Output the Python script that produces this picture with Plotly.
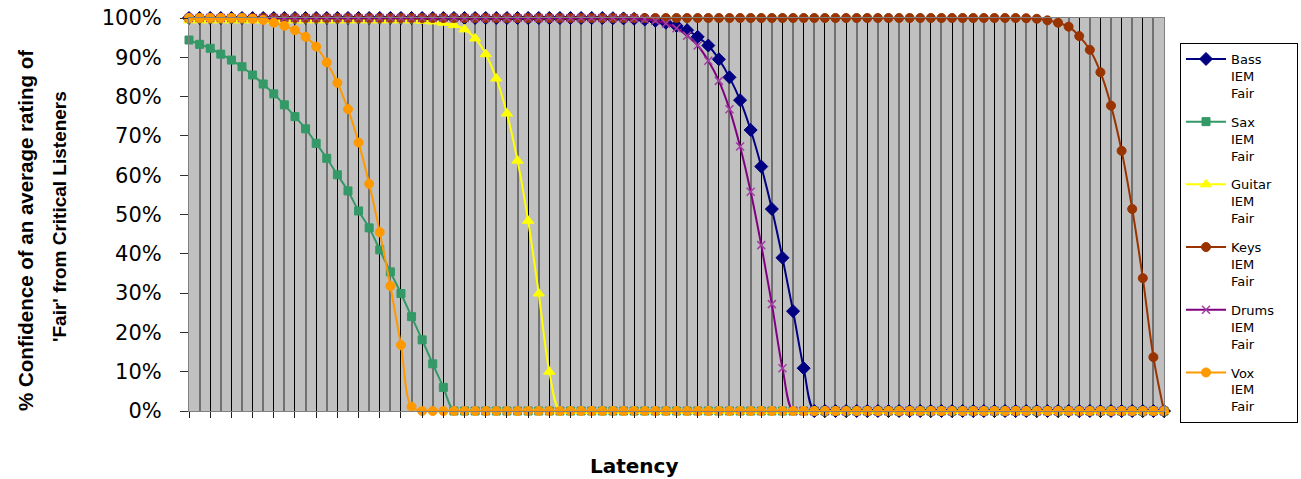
import plotly.graph_objects as go

# Category positions (latency steps, unlabeled in the original)
latency = list(range(93))

# Series values in percent
bass = [100] * 40 + [99.95, 99.9, 99.8, 99.6, 99.3, 98.8, 98.0, 96.9, 95.2, 93.0, 89.5,
                     84.9, 79.1, 71.5, 62.2, 51.4, 39.0, 25.4, 10.9] + [0] * 34
sax = [94.4, 93.3, 92.3, 90.8, 89.3, 87.6, 85.5, 83.2, 80.7, 77.9, 74.9, 71.8, 68.1,
       64.3, 60.1, 56.0, 50.9, 46.6, 41.0, 35.4, 29.9, 24.0, 18.1, 12.0, 6.0] + [0] * 68
guitar = [99.4] * 22 + [99.3, 99.1, 98.8, 98.2, 97.1, 94.8, 90.8, 84.6, 75.7, 63.7,
                        48.4, 29.9, 10.0] + [0] * 58
keys = [100] * 79 + [99.95, 99.8, 99.4, 98.8, 97.8, 95.4, 91.9, 86.2, 77.7, 66.2,
                     51.4, 33.8, 13.7, 0]
drums = [100] * 41 + [99.95, 99.9, 99.7, 99.3, 98.6, 97.4, 95.5, 93.0, 89.1, 84.0,
                      76.8, 67.3, 55.8, 42.2, 27.2, 10.9] + [0] * 36
vox = [100] * 6 + [99.8, 99.5, 98.8, 98.0, 96.9, 95.2, 92.7, 88.7, 83.5, 76.8, 68.3,
                   57.8, 45.5, 31.8, 16.8, 1.1] + [0] * 71

series_names = ["Bass<br>IEM<br>Fair", "Sax<br>IEM<br>Fair",
                "Guitar&nbsp;&nbsp;&nbsp;&nbsp;&nbsp;<br>IEM<br>Fair",
                "Keys<br>IEM<br>Fair", "Drums<br>IEM<br>Fair", "Vox<br>IEM<br>Fair"]
series_values = [bass, sax, guitar, keys, drums, vox]
line_colors = ["#000080", "#339966", "#FFFF00", "#993300", "#800080", "#FF9900"]
marker_symbols = ["diamond", "square", "triangle-up", "circle", "x-thin-open", "circle"]
marker_sizes = [10, 8, 10, 9, 8, 9]

fig = go.Figure()
for i, (name, vals, col, sym, ms) in enumerate(zip(series_names, series_values, line_colors,
                                                   marker_symbols, marker_sizes)):
    marker = dict(symbol=sym, size=ms, color=col, line=dict(color=col, width=1))
    if sym == "x-thin-open":
        marker = dict(symbol=sym, size=ms, color="#A040A0", line=dict(color="#A040A0", width=1.5))
    fig.add_trace(go.Scatter(
        x=latency, y=vals, name=name, mode="lines+markers",
        line=dict(color=col, width=2, shape="spline", smoothing=1),
        marker=marker, cliponaxis=False, legendgroup=f"g{i}",
    ))

L, R, T, B = 189, 137, 18, 68
W, H = 1301, 479
pw, ph = W - L - R, H - T - B


def px_x(px):
    return (px - L) / pw


def px_y(py):
    return (H - B - py) / ph


fig.update_layout(
    width=W, height=H,
    margin=dict(l=L, r=R, t=T, b=B, pad=0, autoexpand=False),
    plot_bgcolor="#C0C0C0", paper_bgcolor="white",
    font=dict(family="DejaVu Sans", color="black"),
    showlegend=True,
    legend=dict(
        x=px_x(1180), y=px_y(43), xanchor="left", yanchor="top",
        bordercolor="black", borderwidth=1, bgcolor="white",
        font=dict(family="DejaVu Sans", size=13, color="black"),
        valign="top", tracegroupgap=9, traceorder="grouped",
        itemwidth=40,
    ),
    xaxis=dict(
        range=[0, 92], showline=True, linecolor="#808080", linewidth=1, mirror=True,
        tick0=0, dtick=2, ticks="outside", ticklen=6, tickcolor="#202020",
        showticklabels=False, showgrid=True, gridcolor="black", gridwidth=1,
        minor=dict(dtick=1, showgrid=True, gridcolor="#707070", gridwidth=2, ticks=""),
        zeroline=False, fixedrange=True, automargin=False,
    ),
    yaxis=dict(
        range=[0, 100], dtick=10, tick0=0, ticksuffix="%",
        showline=True, linecolor="#808080", linewidth=1, mirror=True,
        ticks="outside", ticklen=8, tickcolor="#303030",
        tickfont=dict(family="DejaVu Sans", size=21, color="black"),
        ticklabelstandoff=14,
        showgrid=False, zeroline=False, automargin=False,
    ),
    yaxis2=dict(
        range=[0, 100], overlaying="y", side="left", tick0=0, dtick=20,
        showgrid=True, gridcolor="black", gridwidth=1,
        minor=dict(dtick=10, showgrid=True, gridcolor="#707070", gridwidth=2, ticks=""),
        showticklabels=False, ticks="", showline=False, zeroline=False, automargin=False,
    ),
)

fig.add_annotation(text="% Confidence of an average rating of", textangle=-90,
                   xref="paper", yref="paper", x=px_x(25), y=px_y(231),
                   xanchor="center", yanchor="middle", showarrow=False,
                   font=dict(family="Liberation Sans", size=20.5, color="black", weight="bold"))
fig.add_annotation(text="'Fair' from Critical Listeners", textangle=-90,
                   xref="paper", yref="paper", x=px_x(60), y=px_y(217),
                   xanchor="center", yanchor="middle", showarrow=False,
                   font=dict(family="Liberation Sans", size=19, color="black", weight="bold"))
fig.add_annotation(text="Latency", xref="paper", yref="paper", x=px_x(634), y=px_y(466),
                   xanchor="center", yanchor="middle", showarrow=False,
                   font=dict(family="DejaVu Sans", size=20, color="black", weight="bold"))

fig.write_html("out.html")
